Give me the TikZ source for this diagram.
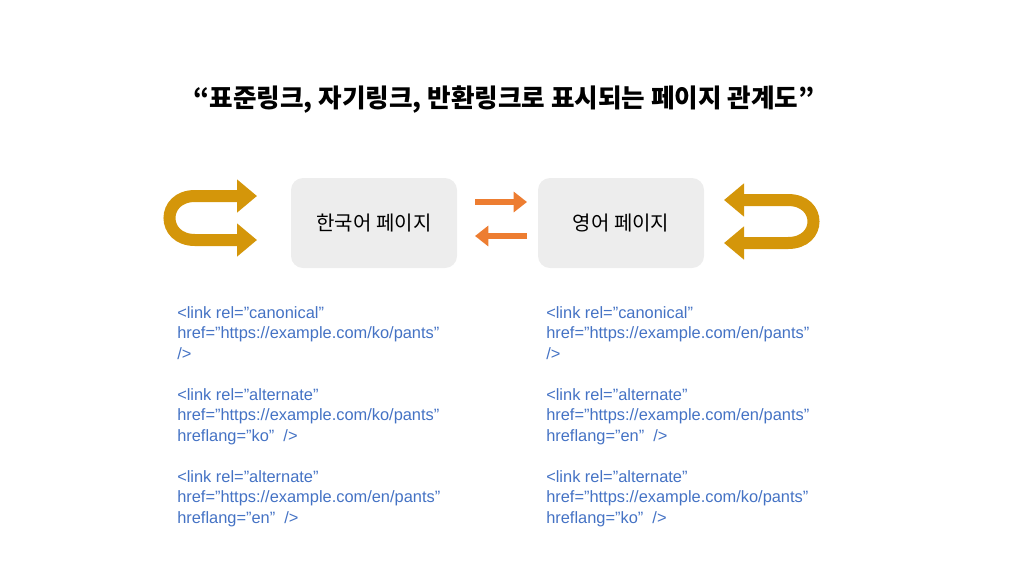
\documentclass[tikz,border=0pt]{standalone}
\usepackage{fontspec}
\setmainfont{Liberation Sans}
\newfontfamily\kr{Noto Sans CJK KR}
\usetikzlibrary{arrows.meta}
\definecolor{gold}{HTML}{D4960A}
\definecolor{org}{HTML}{ED7D31}
\definecolor{cblue}{HTML}{4472C4}
\definecolor{boxg}{HTML}{EDEDED}
\begin{document}
\begin{tikzpicture}[x=0.75pt,y=-0.75pt,
 page/.style={fill=boxg,rounded corners=9pt,minimum width=124.5pt,minimum height=67.5pt,font=\kr\fontsize{15}{17}\selectfont},
 loop/.style={draw=gold,line width=9pt,{Triangle[length=15pt,width=24pt]}-{Triangle[length=15pt,width=24pt]}},
 xarr/.style={draw=org,line width=5pt,-{Triangle[length=10pt,width=15pt]}},
 code/.style={anchor=north west,align=left,text=cblue,font=\fontsize{12.3}{15.4}\selectfont,inner sep=0pt}]
\useasboundingbox (0,0) rectangle (1024,576);
\node[font=\kr\bfseries\fontsize{19.2}{21}\selectfont] (title) at (504,100) {“표준링크, 자기링크, 반환링크로 표시되는 페이지 관계도”};
\node[page] (ko) at (374,223) {한국어 페이지};
\node[page] (en) at (621,223) {영어 페이지};
\coordinate (l1) at (257,196); \coordinate (l2) at (257,240);
\draw[loop] (l1) -- (195,196) .. controls (161,196) and (161,240) .. (195,240) -- (l2);
\coordinate (r1) at (724,200); \coordinate (r2) at (724,243);
\draw[loop] (r1) -- (788,200) .. controls (822,200) and (822,243) .. (788,243) -- (r2);
\coordinate (o1) at (475,202); \coordinate (o2) at (527,202);
\coordinate (o3) at (527,236); \coordinate (o4) at (475,236);
\draw[xarr] (o1) -- (o2);
\draw[xarr] (o3) -- (o4);
\node[code] (kc1) at (177,306) {<link rel=”canonical”\\href=”https://example.com/ko/pants”\\/>};
\node[code] (kc2) at (177,388) {<link rel=”alternate”\\href=”https://example.com/ko/pants”\\hreflang=”ko”\ \ />};
\node[code] (kc3) at (177,470) {<link rel=”alternate”\\href=”https://example.com/en/pants”\\hreflang=”en”\ \ />};
\node[code] (ec1) at (546,306) {<link rel=”canonical”\\href=”https://example.com/en/pants”\\/>};
\node[code] (ec2) at (546,388) {<link rel=”alternate”\\href=”https://example.com/en/pants”\\hreflang=”en”\ \ />};
\node[code] (ec3) at (546,470) {<link rel=”alternate”\\href=”https://example.com/ko/pants”\\hreflang=”ko”\ \ />};
\end{tikzpicture}
\end{document}
